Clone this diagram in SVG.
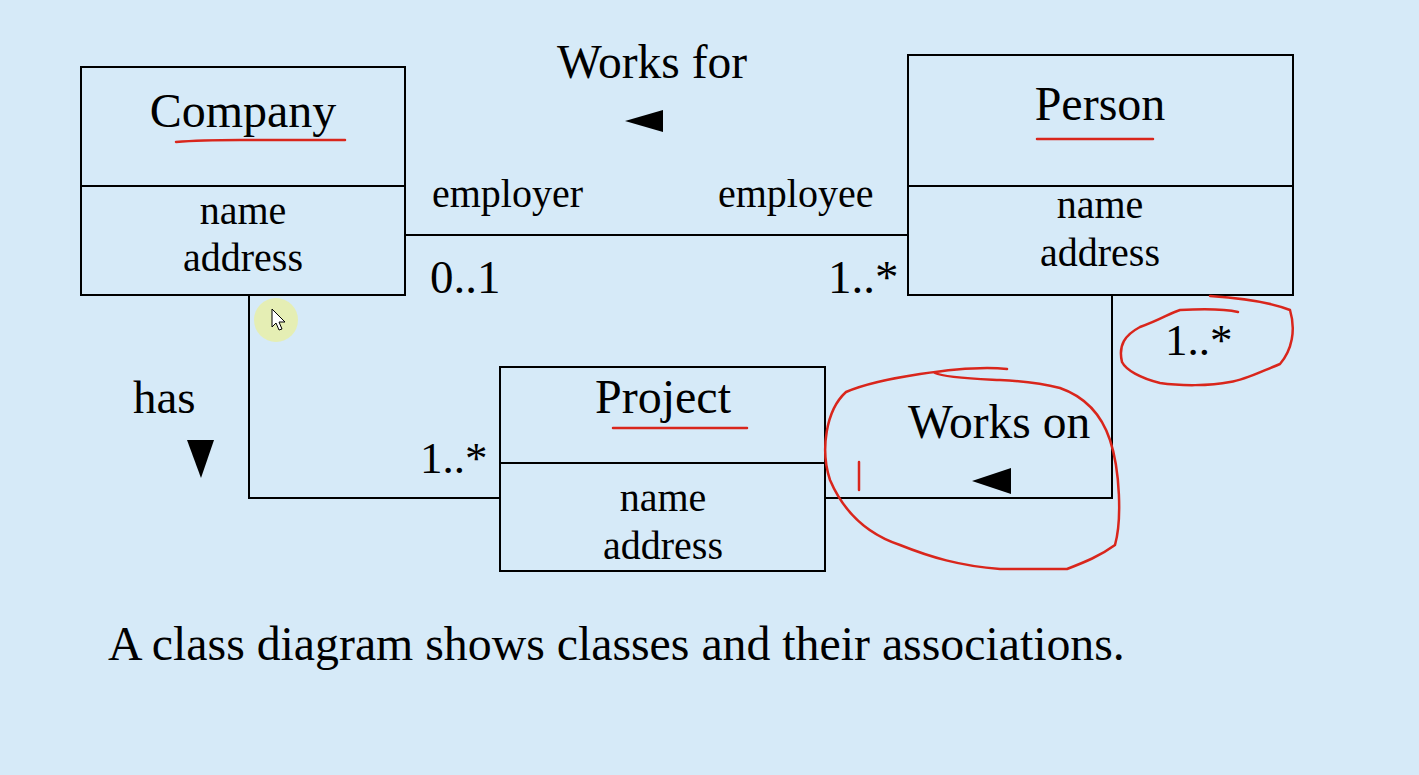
<svg xmlns="http://www.w3.org/2000/svg" width="1419" height="775" viewBox="0 0 1419 775">
<defs>
<style>
.bg{fill:#D6EAF8}
.box{fill:none;stroke:#000;stroke-width:2}
.ln{fill:none;stroke:#000;stroke-width:2}
.t{font-family:"Liberation Serif","Times New Roman",serif;fill:#000}
.title{font-size:48px;text-anchor:middle}
.attr{font-size:40px;text-anchor:middle}
.lbl{font-size:40px}
.red{fill:none;stroke:#D9261C;stroke-width:2.5;stroke-linecap:round;stroke-linejoin:round}
</style>
</defs>
<rect class="bg" x="0" y="0" width="1419" height="775"/>

<g id="connectors">
<line class="ln" x1="405" y1="235" x2="908" y2="235"/>
<polyline class="ln" points="249,295 249,498 500,498"/>
<polyline class="ln" points="825,498 1112,498 1112,295"/>
</g>

<g id="company">
<rect class="box" x="81" y="67" width="324" height="228"/>
<line class="ln" x1="81" y1="186" x2="405" y2="186"/>
<text class="t title" x="243" y="127">Company</text>
<text class="t attr" x="243" y="224">name</text>
<text class="t attr" x="243" y="271">address</text>
</g>

<g id="person">
<rect class="box" x="908" y="55" width="385" height="240"/>
<line class="ln" x1="908" y1="186" x2="1293" y2="186"/>
<text class="t title" x="1100" y="120">Person</text>
<text class="t attr" x="1100" y="218">name</text>
<text class="t attr" x="1100" y="266">address</text>
</g>

<g id="project">
<rect class="box" x="500" y="367" width="325" height="204"/>
<line class="ln" x1="500" y1="463" x2="825" y2="463"/>
<text class="t title" x="663" y="413">Project</text>
<text class="t attr" x="663" y="511">name</text>
<text class="t attr" x="663" y="559">address</text>
</g>

<g id="labels">
<text class="t" x="557" y="78" font-size="47.5">Works for</text>
<polygon points="625,121 663,110 663,132" fill="#000"/>
<text class="t lbl" x="432" y="207">employer</text>
<text class="t lbl" x="718" y="207">employee</text>
<text class="t" x="430" y="293" font-size="47">0..1</text>
<text class="t" x="828" y="293" font-size="47">1..*</text>
<text class="t" x="133" y="413" font-size="47">has</text>
<polygon points="187,440 214,440 201,478" fill="#000"/>
<text class="t" x="420" y="473" font-size="45">1..*</text>
<text class="t" x="908" y="438" font-size="47.5">Works on</text>
<polygon points="972,481 1011,468 1011,494" fill="#000"/>
<text class="t" x="1165" y="355" font-size="45">1..*</text>
<text class="t" x="108" y="660" font-size="47.8">A class diagram shows classes and their associations.</text>
</g>

<g id="annotations">
<path class="red" d="M176,142 C200,140 220,140 240,140 L345,140"/>
<path class="red" d="M1037,139 L1153,139"/>
<path class="red" d="M613,428 L747,428"/>
<path class="red" d="M859,462 L859,490"/>
<path class="red" d="M1007,369 C990,367 960,368 920,374 C880,380 860,386 846,392 C826,410 820,450 830,480 C845,515 870,535 900,545 C930,557 960,566 1000,569 L1067,569 C1085,562 1100,556 1115,545 C1122,520 1120,470 1110,440 C1100,410 1080,395 1060,388 C1040,383 1020,381 1000,380 C980,379 945,378 935,373"/>
<path class="red" d="M1210,296 C1240,298 1270,302 1290,310 C1296,330 1292,350 1280,364 C1260,372 1245,380 1230,382 C1210,386 1180,386 1160,383 C1140,378 1126,370 1122,362 C1118,345 1125,335 1140,327 C1160,320 1170,313 1180,310 C1200,309 1225,309 1238,312"/>
</g>

<g id="cursor">
<circle cx="276" cy="320" r="22" fill="#E8EFA8" opacity="0.85"/>
<path d="M272,309 L272,327 L276,323 L279,330 L282,329 L279,322 L285,322 Z" fill="#fff" stroke="#000" stroke-width="1"/>
</g>
</svg>
